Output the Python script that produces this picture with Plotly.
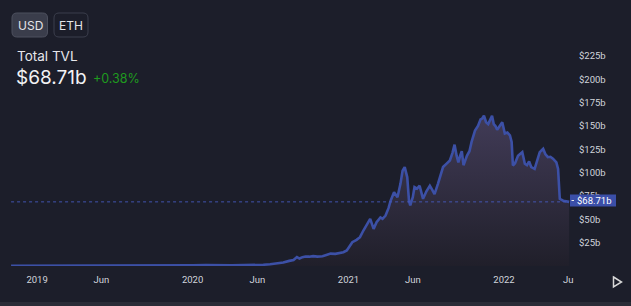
import plotly.graph_objects as go

# ---------------- data ----------------
dates = [
    "2018-11-01", "2018-12-01", "2019-01-01", "2019-02-01", "2019-03-01", "2019-04-01",
    "2019-05-01", "2019-06-01", "2019-07-01", "2019-08-01", "2019-09-01", "2019-10-01",
    "2019-11-01", "2019-12-01", "2020-01-01", "2020-02-01", "2020-03-01", "2020-04-01",
    "2020-05-01", "2020-06-01", "2020-06-15", "2020-07-01", "2020-07-15", "2020-08-01",
    "2020-08-15", "2020-08-25", "2020-09-02", "2020-09-08", "2020-09-15", "2020-09-22",
    "2020-10-01", "2020-10-10", "2020-10-20", "2020-11-01", "2020-11-10", "2020-11-20",
    "2020-12-01", "2020-12-12", "2020-12-20", "2020-12-28", "2021-01-05", "2021-01-10",
    "2021-01-20", "2021-01-28", "2021-02-05", "2021-02-13", "2021-02-21", "2021-03-01",
    "2021-03-08", "2021-03-17", "2021-03-22", "2021-03-29", "2021-04-05", "2021-04-10",
    "2021-04-18", "2021-04-26", "2021-05-03", "2021-05-08", "2021-05-13", "2021-05-19",
    "2021-05-23", "2021-05-26", "2021-06-01", "2021-06-05", "2021-06-11", "2021-06-17",
    "2021-06-22", "2021-06-25", "2021-07-03", "2021-07-11", "2021-07-16", "2021-07-22",
    "2021-07-30", "2021-08-05", "2021-08-11", "2021-08-20", "2021-08-27", "2021-09-02",
    "2021-09-07", "2021-09-12", "2021-09-16", "2021-09-20", "2021-09-24", "2021-09-28",
    "2021-10-06", "2021-10-12", "2021-10-17", "2021-10-25", "2021-11-01", "2021-11-07",
    "2021-11-11", "2021-11-15", "2021-11-20", "2021-11-25", "2021-11-30", "2021-12-04",
    "2021-12-08", "2021-12-12", "2021-12-16", "2021-12-22", "2021-12-28", "2022-01-03",
    "2022-01-09", "2022-01-15", "2022-01-19", "2022-01-22", "2022-01-27", "2022-02-03",
    "2022-02-09", "2022-02-13", "2022-02-19", "2022-02-24", "2022-03-01", "2022-03-06",
    "2022-03-14", "2022-03-20", "2022-03-26", "2022-04-03", "2022-04-08", "2022-04-14",
    "2022-04-20", "2022-04-26", "2022-05-04", "2022-05-08", "2022-05-12", "2022-05-20",
    "2022-05-27", "2022-06-03",
]
tvl = [
    0.30, 0.28, 0.30, 0.30, 0.35, 0.45,
    0.50, 0.55, 0.55, 0.50, 0.55, 0.60,
    0.65, 0.70, 0.70, 1.00, 0.70, 0.80,
    0.95, 1.0, 1.3, 1.9, 2.6, 3.8,
    5.5, 6.5, 9.6, 8.0, 9.5, 10.2,
    10.0, 10.6, 10.1, 10.5, 11.8, 13.3,
    13.0, 13.7, 14.8, 16.6, 22.5, 25.5,
    28.0, 30.9, 38.0, 45.0, 50.5, 39.8,
    47.0, 52.0, 50.5, 54.0, 62.0, 70.0,
    79.0, 73.7, 88.0, 102.0, 106.0, 95.0,
    70.0, 65.0, 73.7, 84.5, 83.0, 86.0,
    76.0, 72.0, 80.0, 86.0, 82.0, 77.0,
    88.0, 97.0, 106.0, 110.0, 113.0, 121.0,
    130.0, 118.0, 111.0, 118.0, 123.0, 108.0,
    118.0, 123.0, 133.0, 145.0, 150.0, 157.0,
    158.0, 161.0, 154.0, 152.0, 158.0, 161.0,
    152.0, 150.0, 146.0, 150.0, 154.0, 142.0,
    143.0, 140.0, 133.0, 107.7, 110.0, 118.0,
    120.0, 122.0, 109.5, 108.0, 112.0, 106.0,
    104.0, 112.0, 122.0, 125.6, 120.0, 116.6,
    117.0, 115.0, 111.0, 104.0, 72.0, 70.0,
    69.0, 68.71,
]
current_value = 68.71
current_label = "$68.71b"
change_label = "+0.38%"
title_label = "Total TVL"
buttons = ["USD", "ETH"]

ytick_vals = [25, 50, 75, 100, 125, 150, 175, 200, 225]
ytick_text = ["$25b", "$50b", "$75b", "$100b", "$125b", "$150b", "$175b", "$200b", "$225b"]
xtick_vals = ["2019-01-01", "2019-06-01", "2020-01-01", "2020-06-01",
              "2021-01-01", "2021-06-01", "2022-01-01", "2022-06-01"]
xtick_text = ["2019", "Jun", "2020", "Jun", "2021", "Jun", "2022", "Ju"]

# ---------------- geometry helpers ----------------
W, H = 631, 306
PLOT_R = 570   # right edge of plot area in px
PLOT_B = 266   # bottom edge of plot area in px


def px(x, y):
    return x / PLOT_R, (PLOT_B - y) / PLOT_B


def rounded_rect(x0, y0, x1, y1, r):
    def P(x, y):
        a, b = px(x, y)
        return f"{a:.5f},{b:.5f}"
    return (f"M {P(x0 + r, y0)} L {P(x1 - r, y0)} Q {P(x1, y0)} {P(x1, y0 + r)} "
            f"L {P(x1, y1 - r)} Q {P(x1, y1)} {P(x1 - r, y1)} L {P(x0 + r, y1)} "
            f"Q {P(x0, y1)} {P(x0, y1 - r)} L {P(x0, y0 + r)} Q {P(x0, y0)} {P(x0 + r, y0)} Z")


BG = "#1c1e2a"
LINE = "#3c50a6"

fig = go.Figure()
fig.add_trace(go.Scatter(
    x=dates, y=tvl, mode="lines",
    line=dict(color=LINE, width=2.6),
    fill="tozeroy",
    fillgradient=dict(type="vertical", start=0, stop=165,
                      colorscale=[[0, "rgb(32,31,42)"], [1, "rgb(66,60,88)"]]),
    hoverinfo="skip",
))

# dotted current value line
fig.add_shape(type="line", xref="x", yref="y", x0=dates[0], x1=dates[-1],
              y0=current_value, y1=current_value,
              line=dict(color="rgba(70,90,190,0.9)", width=1, dash="dot"))

shapes = []
# buttons
shapes.append(dict(type="path", xref="paper", yref="paper",
                   path=rounded_rect(12, 13, 47.5, 37, 5),
                   fillcolor="#3a3d4b", line=dict(color="#4d505e", width=1)))
shapes.append(dict(type="path", xref="paper", yref="paper",
                   path=rounded_rect(54, 13, 88, 37, 5),
                   fillcolor=BG, line=dict(color="#3b3e4c", width=1)))
# price label box
bx0, by0 = px(570, 194.5)
bx1, by1 = px(616, 206.5)
shapes.append(dict(type="rect", xref="paper", yref="paper", x0=bx0, x1=bx1, y0=by1, y1=by0,
                   fillcolor="#3b4fa8", line=dict(width=0), layer="above"))
tx0, ty0 = px(571.5, 200.5)
tx1, _ = px(574, 200.5)
shapes.append(dict(type="line", xref="paper", yref="paper", x0=tx0, x1=tx1, y0=ty0, y1=ty0,
                   line=dict(color="#e8e8e8", width=1), layer="above"))
# bottom strip
sx0, sy0 = px(0, 302)
sx1, sy1 = px(W, H + 2)
shapes.append(dict(type="rect", xref="paper", yref="paper", x0=sx0, x1=sx1, y0=sy1, y1=sy0,
                   fillcolor="#2a2c37", line=dict(width=0)))
# play triangle
a = px(613.5, 277)
b = px(621.5, 282)
c = px(613.5, 287)
shapes.append(dict(type="path", xref="paper", yref="paper",
                   path=f"M {a[0]},{a[1]} L {b[0]},{b[1]} L {c[0]},{c[1]} Z",
                   line=dict(color="#d8d8d8", width=1.5)))
for s in shapes:
    fig.add_shape(**s)

annos = []
def text(x, y, s, size, color, xanchor="left", family="Inter"):
    ax, ay = px(x, y)
    annos.append(dict(x=ax, y=ay, xref="paper", yref="paper", text=s, showarrow=False,
                      xanchor=xanchor, yanchor="middle",
                      font=dict(size=size, color=color, family=family)))

text(30, 25.5, buttons[0], 12, "#e4e4e8", xanchor="center")
text(71, 25.5, buttons[1], 12, "#e4e4e8", xanchor="center")
text(15, 56, title_label, 13.5, "#e6e6ea")
text(14, 77.5, current_label, 19, "#f2f2f4")
text(91, 78.5, change_label, 12.5, "#1f9a1f")
text(575, 200.5, current_label, 9.5, "#ffffff", family="Roboto")
for s in annos:
    fig.add_annotation(**s)

fig.update_layout(
    width=W, height=H,
    margin=dict(l=0, r=W - PLOT_R, t=0, b=H - PLOT_B, pad=0),
    paper_bgcolor=BG, plot_bgcolor=BG,
    showlegend=False,
    xaxis=dict(range=["2018-10-06", "2022-06-05"], showgrid=False, zeroline=False,
               showline=False, tickvals=xtick_vals, ticktext=xtick_text,
               ticks="", ticklabelstandoff=6,
               tickfont=dict(size=9.5, color="#d1d4dc", family="Roboto")),
    yaxis=dict(range=[0, 285], side="right", showgrid=False, zeroline=False,
               showline=False, tickvals=ytick_vals, ticktext=ytick_text,
               ticks="", ticklabelstandoff=8,
               tickfont=dict(size=9.5, color="#d1d4dc", family="Roboto")),
)

fig.write_html("out.html", config={"displayModeBar": False})
